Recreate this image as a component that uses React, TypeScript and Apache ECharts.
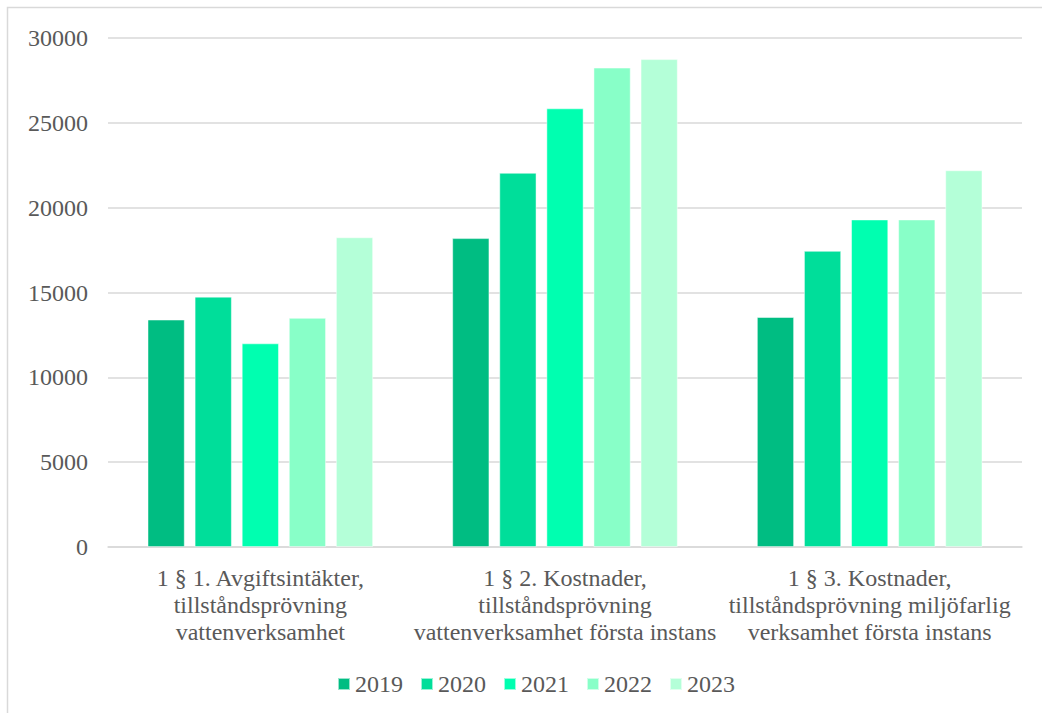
import React, { useEffect, useRef } from "react";
import * as echarts from "echarts";

const categories = [
  "1 § 1. Avgiftsintäkter,\ntillståndsprövning\nvattenverksamhet",
  "1 § 2. Kostnader,\ntillståndsprövning\nvattenverksamhet första instans",
  "1 § 3. Kostnader,\ntillståndsprövning miljöfarlig\nverksamhet första instans",
];
const years = ["2019", "2020", "2021", "2022", "2023"];
const colors = ["#00BD82", "#00DE9A", "#00FFB0", "#88FFC8", "#B4FFD8"];
const v2019 = [13400, 18200, 13550];
const v2020 = [14750, 22050, 17450];
const v2021 = [12000, 25850, 19300];
const v2022 = [13500, 28250, 19300];
const v2023 = [18250, 28750, 22200];
const seriesValues = [v2019, v2020, v2021, v2022, v2023];
const yTicks = { min: 0, max: 30000, interval: 5000 };

export default function App() {
  const ref = useRef<HTMLDivElement>(null);
  useEffect(() => {
    if (!ref.current) return;
    const chart = echarts.init(ref.current, undefined, { renderer: "svg" });
    const font = "'Liberation Serif', 'Times New Roman', serif";
    chart.setOption({
      animation: false,
      backgroundColor: "#ffffff",
      textStyle: { fontFamily: font },
      graphic: [
        {
          type: "rect",
          shape: { x: 7.5, y: 7.5, width: 1100, height: 800 },
          style: { fill: "none", stroke: "#d9d9d9", lineWidth: 1.5 },
          silent: true,
          z: -10,
        },
      ],
      grid: { left: 108, right: 20, top: 38, bottom: 166, containLabel: false },
      legend: {
        data: years,
        top: 667,
        left: 332,
        icon: "rect",
        itemWidth: 12,
        itemHeight: 12,
        itemGap: 17,
        textStyle: { fontFamily: font, fontSize: 24, color: "#595959" },
      },
      xAxis: {
        type: "category",
        data: categories,
        axisLine: { lineStyle: { color: "#d9d9d9", width: 1.5 } },
        axisTick: { show: false },
        axisLabel: {
          interval: 0,
          fontFamily: font,
          fontSize: 24,
          color: "#595959",
          lineHeight: 27,
          margin: 17,
        },
      },
      yAxis: {
        type: "value",
        min: yTicks.min,
        max: yTicks.max,
        interval: yTicks.interval,
        axisLine: { show: false },
        axisTick: { show: false },
        splitLine: { lineStyle: { color: "#d9d9d9", width: 1.5 } },
        axisLabel: {
          fontFamily: font,
          fontSize: 24,
          color: "#595959",
          margin: 20,
          formatter: (v: number) => String(v),
        },
      },
      series: years.map((y, i) => ({
        name: y,
        type: "bar",
        data: seriesValues[i],
        barGap: "27%",
        barCategoryGap: "26%",
        itemStyle: { color: colors[i], borderColor: "rgba(255,255,255,0.6)", borderWidth: 0.8 },
      })),
    });
    return () => chart.dispose();
  }, []);
  return (
    <div
      ref={ref}
      style={{ position: "absolute", left: 0, top: 0, width: 1042, height: 713 }}
    />
  );
}
